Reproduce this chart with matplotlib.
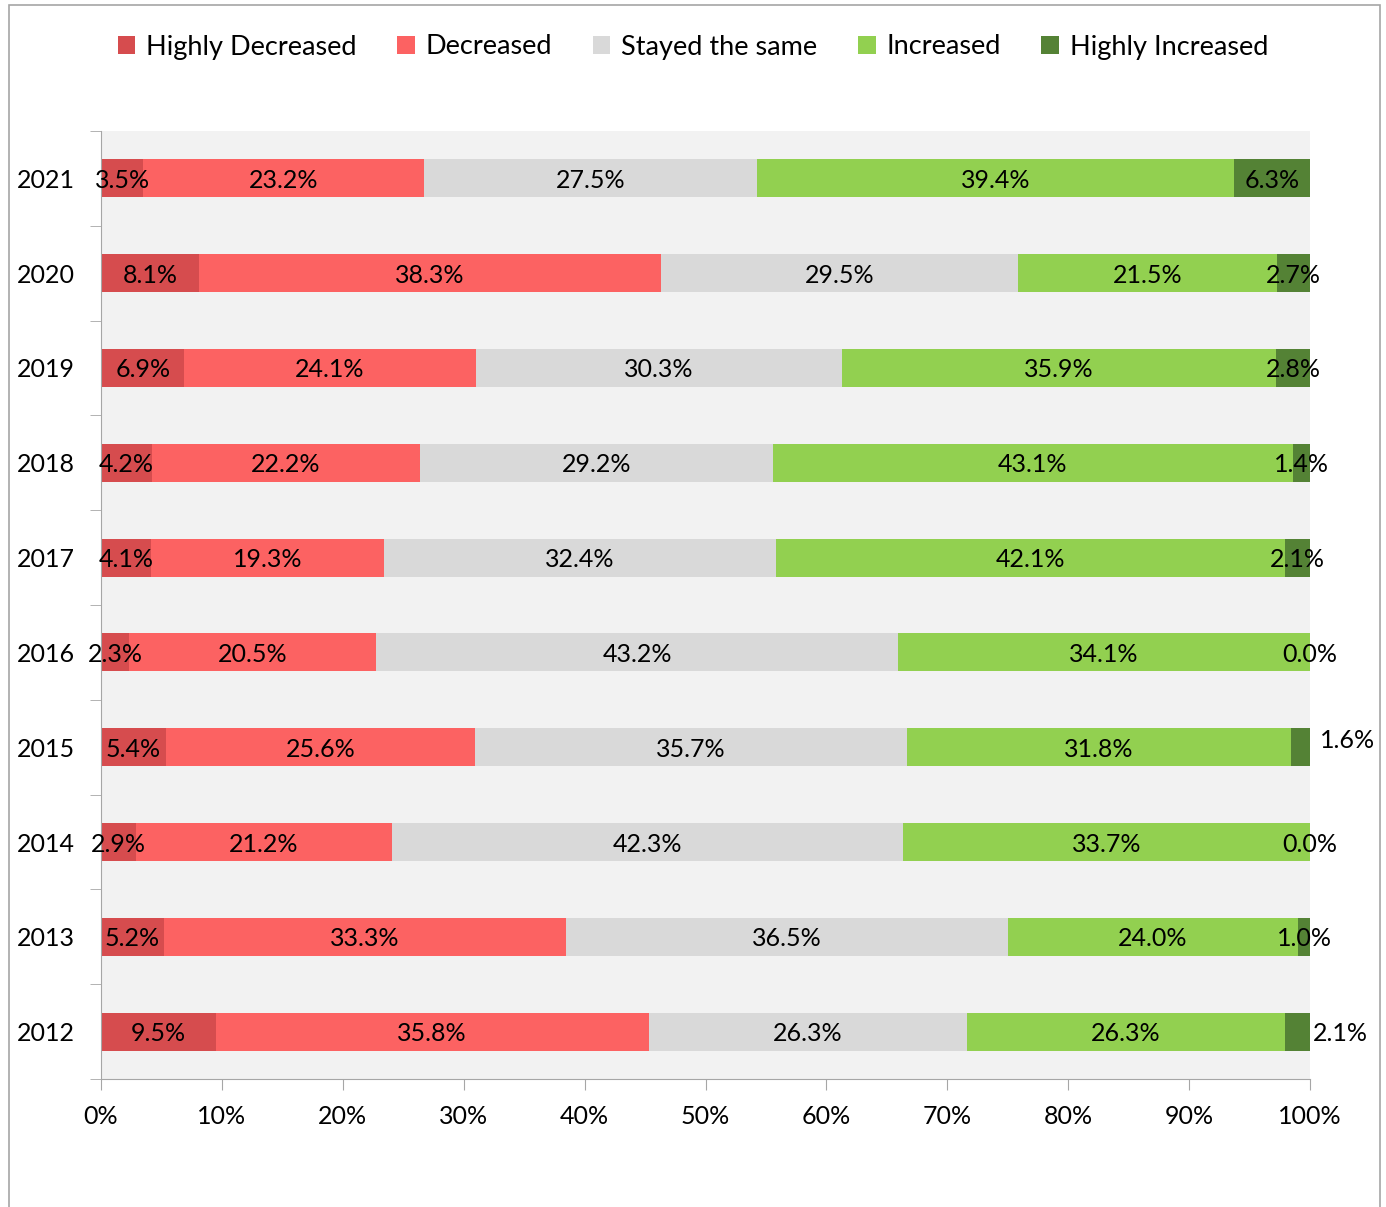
import numpy as np
import matplotlib.pyplot as plt
from matplotlib.patches import Rectangle
from matplotlib.ticker import FixedLocator, PercentFormatter

plt.rcParams['font.family'] = ['Lato', 'DejaVu Sans']

years = ['2021', '2020', '2019', '2018', '2017', '2016', '2015', '2014', '2013', '2012']
series = ['Highly Decreased', 'Decreased', 'Stayed the same', 'Increased', 'Highly Increased']
colors = ['#D64C4E', '#FC6262', '#D9D9D9', '#92D050', '#548235']

highly_decreased = [3.5, 8.1, 6.9, 4.2, 4.1, 2.3, 5.4, 2.9, 5.2, 9.5]
decreased = [23.2, 38.3, 24.1, 22.2, 19.3, 20.5, 25.6, 21.2, 33.3, 35.8]
stayed = [27.5, 29.5, 30.3, 29.2, 32.4, 43.2, 35.7, 42.3, 36.5, 26.3]
increased = [39.4, 21.5, 35.9, 43.1, 42.1, 34.1, 31.8, 33.7, 24.0, 26.3]
highly_increased = [6.3, 2.7, 2.8, 1.4, 2.1, 0.0, 1.6, 0.0, 1.0, 2.1]

data = np.array([highly_decreased, decreased, stayed, increased, highly_increased])
shares = data / data.sum(axis=0)

W, H = 1386, 1207
fig = plt.figure(figsize=(W / 100, H / 100), dpi=100)
ax = fig.add_axes([101 / W, 1 - 1079 / H, (1310 - 101) / W, (1079 - 131) / H])
ax.set_facecolor('#F2F2F2')

# outer chart border
fig.patches.append(Rectangle((9 / W, -0.05), (1380 - 9) / W, 1 - 5 / H + 0.05,
                             transform=fig.transFigure, fill=False,
                             edgecolor='#A6A6A6', linewidth=1.2))

y = np.arange(len(years))[::-1]
left = np.zeros(len(years))
for k, name in enumerate(series):
    ax.barh(y, shares[k], left=left, height=0.4, color=colors[k], label=name)
    for i in range(len(years)):
        cx = left[i] + shares[k][i] / 2
        cy = y[i]
        txt = f'{data[k][i]:.1f}%'
        if k == 4 and years[i] == '2015':
            ax.text(1.008, cy + 0.09, txt, ha='left', va='center_baseline', fontsize=18, clip_on=False)
        elif k == 4 and years[i] == '2012':
            ax.text(1.002, cy, txt, ha='left', va='center_baseline', fontsize=18, clip_on=False)
        else:
            ax.text(cx, cy, txt, ha='center', va='center_baseline', fontsize=18, clip_on=False)
    left = left + shares[k]

ax.set_xlim(0, 1)
ax.set_ylim(-0.5, len(years) - 0.5)
ax.xaxis.set_major_locator(FixedLocator(np.linspace(0, 1, 11)))
ax.xaxis.set_major_formatter(PercentFormatter(1.0, decimals=0))
ax.set_yticks(y)
ax.set_yticklabels(years)
ax.set_yticks(np.arange(-0.5, len(years)), minor=True)
ax.tick_params(axis='y', which='major', length=0, pad=19, labelsize=18)
ax.tick_params(axis='y', which='minor', length=8, color='#A6A6A6')
ax.tick_params(axis='x', length=8, color='#A6A6A6', labelsize=18, pad=11)
for s in ['top', 'right']:
    ax.spines[s].set_visible(False)
for s in ['left', 'bottom']:
    ax.spines[s].set_color('#A6A6A6')

fig.legend(loc='center', bbox_to_anchor=(0.5, 1 - 47 / H), ncol=5, frameon=False,
           fontsize=19.5, handlelength=0.65, handleheight=0.65, columnspacing=1.5,
           handletextpad=0.4)

fig.savefig('out.png', dpi=100)
